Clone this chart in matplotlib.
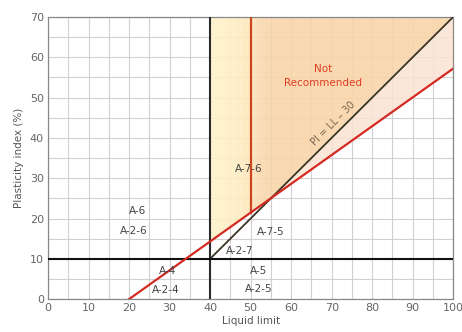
import numpy as np
import matplotlib
matplotlib.use("Agg")
import matplotlib.pyplot as plt

# data
a_line_ll = [20, 100]            # red line: PI ~ 0.715 (LL - 20)
a_line_slope = 0.715
pi_ll30_ll = [40, 100]           # PI = LL - 30
ll_boundary = 40
ll_red = 50
pi_boundary = 10
xticks = [0, 10, 20, 30, 40, 50, 60, 70, 80, 90, 100]
yticks = [0, 10, 20, 30, 40, 50, 60, 70]
labels = [("A-6", 22, 21.8), ("A-2-6", 21.2, 16.9), ("A-7-6", 49.6, 32.3),
          ("A-7-5", 55, 16.6), ("A-2-7", 47.3, 11.9), ("A-4", 29.4, 6.9),
          ("A-2-4", 29, 2.3), ("A-5", 52, 6.9), ("A-2-5", 52, 2.4)]

def aline(x):
    return a_line_slope * (np.asarray(x) - 20)

fig = plt.figure(figsize=(4.62, 3.32), dpi=100)
ax = fig.add_axes([0.104, 0.099, 0.877, 0.850])
ax.set_xlim(0, 100)
ax.set_ylim(0, 70)

# grid
ax.set_xticks(np.arange(0, 101, 5), minor=True)
ax.set_yticks(np.arange(0, 71, 5), minor=True)
ax.grid(which="both", color="#d0d0d0", lw=0.8, zorder=0)
ax.set_axisbelow(True)

# shaded regions
xy = np.linspace(40, 50, 6)
ycols = ["#fef1c9", "#fef0c7", "#feefc5", "#fdecc2", "#fde8bd"]
for i in range(len(xy) - 1):
    xs = np.linspace(xy[i], xy[i + 1], 10)
    ax.fill_between(xs, aline(xs), 70, color=ycols[i], lw=0, zorder=1, alpha=0.9)
ix = 15.7 / (1 - a_line_slope)   # intersection LL of the two sloping lines
xa = np.linspace(50, ix, 8)
cols = ["#fbe3bb", "#fadfb6", "#fadbb1", "#f9d8ae", "#f9d6ab", "#f9d5aa", "#f9d5aa"]
for i in range(len(xa) - 1):
    xs = np.linspace(xa[i], xa[i + 1], 10)
    ax.fill_between(xs, np.maximum(aline(xs), xs - 30), 70, color=cols[i], lw=0, zorder=1, alpha=0.9)
x3 = np.linspace(ix, 100, 200)
ax.fill_between(x3, x3 - 30, 70, color="#f9d5aa", lw=0, zorder=1, alpha=0.9)
ax.fill_between(x3, aline(x3), x3 - 30, color="#fbe3d4", lw=0, zorder=1, alpha=0.85)

# lines
ax.plot(a_line_ll, aline(a_line_ll), color="#d42a22", lw=1.6, zorder=4)
ax.plot(pi_ll30_ll, [v - 30 for v in pi_ll30_ll], color="#3b3426", lw=1.3, zorder=3)
ax.plot([ll_boundary, ll_boundary], [0, 70], color="#2a2a2a", lw=1.5, zorder=3)
ax.plot([ll_red, ll_red], [float(aline(ll_red)), 70], color="#d0451e", lw=1.6, zorder=3)
ax.axhline(pi_boundary, color="#111111", lw=1.5, zorder=3)

# texts
for t, x, y in labels:
    ax.text(x, y, t, ha="center", va="center", fontsize=7.5, color="#444444", zorder=5)
ax.text(67.8, 55.4, "Not\nRecommended", ha="center", va="center", fontsize=7.5,
        color="#e03c20", linespacing=1.5, zorder=5)
ax.text(70.4, 43.6, "PI = LL \u2013 30", ha="center", va="center", fontsize=7,
        color="#7a6a50", rotation=45, zorder=5)

ax.set_xticks(xticks)
ax.set_yticks(yticks)
ax.tick_params(which="both", length=0, labelsize=8, labelcolor="#666666", pad=3)
for s in ax.spines.values():
    s.set_color("#888888")
    s.set_linewidth(0.9)
ax.set_xlabel("Liquid limit", fontsize=7.5, color="#555555", labelpad=2)
ax.set_ylabel("Plasticity index (%)", fontsize=7.5, color="#555555", labelpad=4)

fig.savefig("out.png", dpi=100)
